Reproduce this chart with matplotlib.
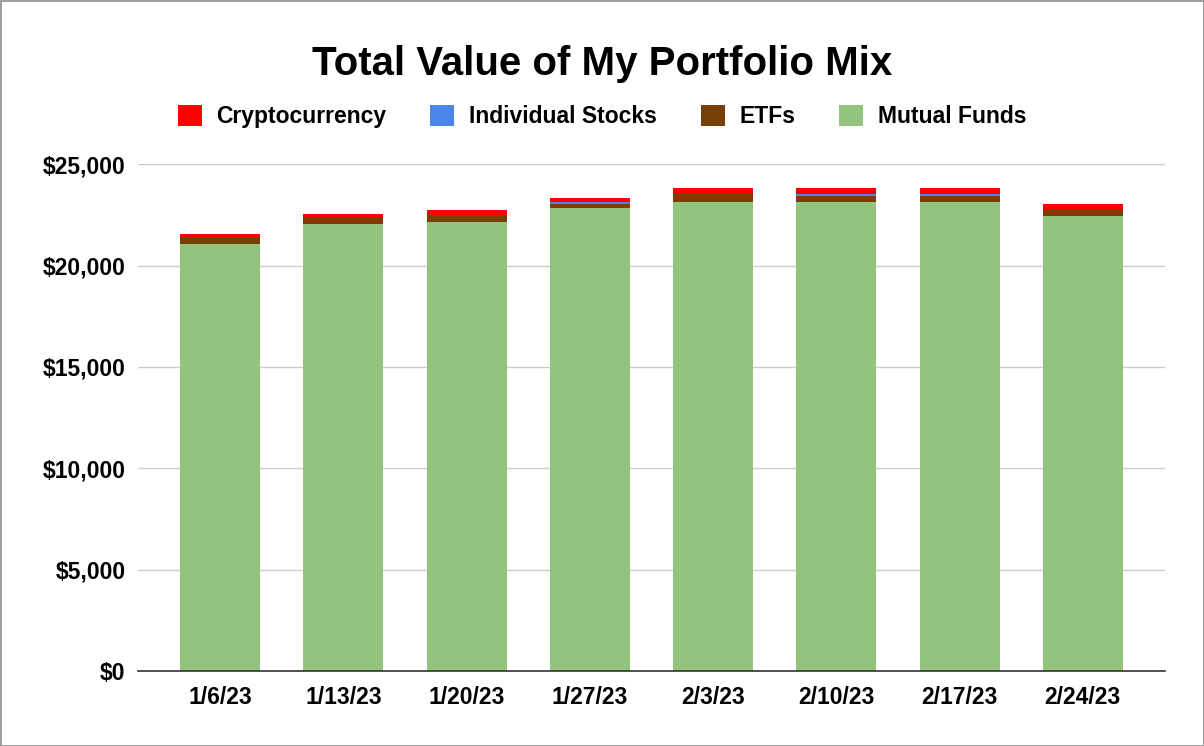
import matplotlib
matplotlib.use("Agg")
import matplotlib.pyplot as plt
from matplotlib.patches import Patch
from matplotlib.ticker import FuncFormatter

plt.rcParams['font.family'] = ['Liberation Sans', 'DejaVu Sans']

dates = ['1/6/23', '1/13/23', '1/20/23', '1/27/23', '2/3/23', '2/10/23', '2/17/23', '2/24/23']
mutual_funds = [21050, 22050, 22150, 22830, 23130, 23130, 23130, 22430]
etfs = [300, 300, 300, 200, 400, 300, 300, 300]
stocks = [0, 0, 0, 100, 0, 100, 100, 0]
crypto = [200, 200, 300, 200, 300, 300, 300, 300]

colors = {'Mutual Funds': '#93c47d', 'ETFs': '#783f04',
          'Individual Stocks': '#4a86e8', 'Cryptocurrency': '#ff0000'}

fig = plt.figure(figsize=(12.04, 7.46), dpi=100)
fig.patch.set_edgecolor('#9e9e9e')
fig.patch.set_linewidth(2)
ax = fig.add_axes([0.1146, 0.1005, 0.853, 0.6795])

x = range(len(dates))
w = 0.65
bottom = [0] * len(dates)
for name, vals in [('Mutual Funds', mutual_funds), ('ETFs', etfs),
                   ('Individual Stocks', stocks), ('Cryptocurrency', crypto)]:
    ax.bar(x, vals, w, bottom=bottom, color=colors[name], zorder=3)
    bottom = [b + v for b, v in zip(bottom, vals)]

ax.set_xlim(-0.667, len(dates) - 0.333)
ax.set_ylim(0, 25000)
ax.set_yticks(range(0, 25001, 5000))
ax.yaxis.set_major_formatter(FuncFormatter(lambda v, p: f'${v:,.0f}'))
ax.set_xticks(list(x))
ax.set_xticklabels(dates)
for lab in ax.get_xticklabels() + ax.get_yticklabels():
    lab.set_fontweight('bold')
    lab.set_fontsize(16.5)
ax.tick_params(axis='y', length=0, pad=9)
ax.tick_params(axis='x', length=0, pad=11)
ax.grid(axis='y', color='#cccccc', linewidth=1, zorder=0)
for s in ['top', 'right', 'left']:
    ax.spines[s].set_visible(False)
ax.spines['bottom'].set_color('#333333')
ax.spines['bottom'].set_linewidth(1.2)
ax.spines['bottom'].set_zorder(4)

fig.text(0.5, 0.914, 'Total Value of My Portfolio Mix', ha='center', va='center',
         fontsize=29, fontweight='bold')

order = ['Cryptocurrency', 'Individual Stocks', 'ETFs', 'Mutual Funds']
handles = [Patch(facecolor=colors[n], edgecolor='none') for n in order]
fig.legend(handles, order, loc='center', bbox_to_anchor=(0.5, 0.844), ncol=4,
           frameon=False, prop={'weight': 'bold', 'size': 16.5},
           handlelength=1.05, handleheight=1.05, handletextpad=0.65, columnspacing=1.9)

fig.savefig('out.png', dpi=100, edgecolor=fig.get_edgecolor())
